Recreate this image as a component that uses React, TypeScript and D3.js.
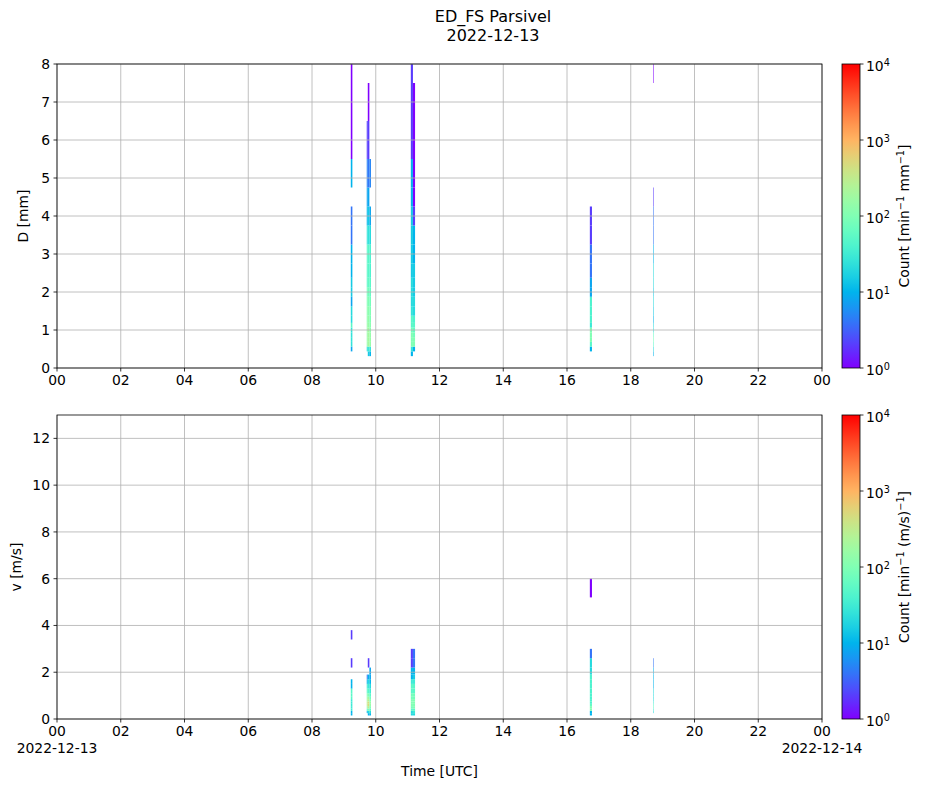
import React from 'react';
import * as d3 from 'd3';

// Parsivel size / velocity class centres (mm, m/s)
const dClasses = [
  0.062, 0.187, 0.312, 0.437, 0.562, 0.687, 0.812, 0.937, 1.062, 1.187,
  1.375, 1.625, 1.875, 2.125, 2.375, 2.75, 3.25, 3.75, 4.25, 4.75,
  5.5, 6.5, 7.5, 8.5, 9.5, 11, 13, 15, 17, 19, 21.5, 24.5,
];
const vClasses = [
  0.05, 0.15, 0.25, 0.35, 0.45, 0.55, 0.65, 0.75, 0.85, 0.95,
  1.1, 1.3, 1.5, 1.7, 1.9, 2.2, 2.6, 3.0, 3.4, 3.8,
  4.4, 5.2, 6.0, 6.8, 7.6, 8.8, 10.4, 12.0, 13.6, 15.2, 17.6, 20.8,
];

// minutes with rain (UTC start, length in minutes)
const colStart = ['09:13', '09:43', '09:45', '09:48', '11:06', '11:10', '16:43', '18:42'];
const colMinutes = [3, 2, 3, 3, 4, 4, 4, 1];

// counts per D class (index into dClasses)
const dCounts = [
  [0, 0, 0, 8, 25, 25, 25, 25, 50, 20, 20, 8, 15, 15, 10, 10, 4, 4, 0, 10, 1, 1, 1],
  [0, 0, 0, 20, 150, 150, 150, 150, 150, 120, 120, 100, 80, 50, 50, 50, 25, 10, 8, 5, 2],
  [0, 0, 15, 30, 200, 200, 200, 200, 150, 150, 120, 100, 80, 60, 50, 50, 25, 15, 8, 4, 2, 1],
  [0, 0, 10, 25, 150, 150, 150, 120, 120, 100, 100, 80, 60, 50, 40, 40, 20, 8, 0, 5],
  [0, 0, 10, 25, 100, 100, 100, 80, 50, 50, 25, 20, 20, 20, 15, 15, 15, 15, 10, 10, 2, 2, 2],
  [0, 0, 0, 10, 100, 100, 80, 60, 50, 40, 20, 20, 15, 15, 15, 10, 10, 2, 1, 1, 1, 1],
  [0, 0, 0, 10, 50, 100, 100, 100, 30, 40, 40, 40, 8, 8, 4, 4, 2, 2],
  [0, 0, 10, 20, 50, 80, 60, 20, 20, 10, 15, 20, 15, 20, 20, 10, 4, 4, 2, 0, 0, 0, 1],
];

// counts per v class (index into vClasses)
const vCounts = [
  [0, 10, 10, 30, 30, 30, 30, 30, 50, 50, 50, 10, 10, 0, 0, 2, 0, 0, 2],
  [0, 0, 10, 50, 150, 300, 300, 200, 150, 100, 50, 30, 10, 4],
  [0, 10, 20, 100, 300, 500, 500, 300, 200, 100, 50, 30, 20, 10, 0, 2],
  [0, 10, 20, 50, 100, 150, 150, 100, 80, 50, 30, 20, 10, 8, 8],
  [0, 20, 20, 50, 80, 100, 100, 100, 80, 80, 50, 50, 30, 10, 10, 2, 2],
  [0, 20, 30, 50, 100, 100, 100, 100, 80, 80, 50, 50, 30, 15, 10, 4, 4],
  [0, 10, 10, 100, 100, 60, 40, 40, 40, 40, 40, 40, 40, 40, 20, 20, 4, 0, 0, 0, 0, 1],
  [0, 0, 20, 30, 50, 50, 30, 20, 20, 20, 20, 10, 10, 10, 10, 4],
];

const dTicks = [0, 1, 2, 3, 4, 5, 6, 7, 8];
const vTicks = [0, 2, 4, 6, 8, 10, 12];
const cbTicks = [1, 10, 100, 1000, 10000];

const W = 927;
const H = 788;
const FONT = 'DejaVu Sans, sans-serif';
const FS = 13.9;

const day0 = new Date(Date.UTC(2022, 11, 13));
const day1 = new Date(Date.UTC(2022, 11, 14));

// matplotlib "rainbow" colormap
function rainbow(t: number): string {
  const x = Math.max(0, Math.min(1, t));
  const r = Math.min(1, Math.abs(2 * x - 0.5));
  const g = Math.sin(Math.PI * x);
  const b = Math.cos((Math.PI * x) / 2);
  return d3.rgb(r * 255, g * 255, b * 255).formatHex();
}

const x = d3.scaleUtc().domain([day0, day1]).range([57, 822]);
const cNorm = d3.scaleLog().domain([1, 10000]).range([0, 1]).clamp(true);

function startDate(s: string): Date {
  const [h, m] = s.split(':').map(Number);
  return new Date(day0.getTime() + (h * 60 + m) * 60000);
}

interface PanelProps {
  id: string;
  top: number;
  bottom: number;
  ymax: number;
  yTicks: number[];
  classes: number[];
  counts: number[][];
  ylabel: string;
  ylabelX: number;
  cbLabel: React.ReactNode;
  showDates: boolean;
}

function Sup({ children }: { children: React.ReactNode }) {
  return (
    <tspan baselineShift="super" fontSize={FS * 0.7}>
      {children}
    </tspan>
  );
}

function Panel(p: PanelProps) {
  const y = d3.scaleLinear().domain([0, p.ymax]).range([p.bottom, p.top]);
  const cb = d3.scaleLog().domain([1, 10000]).range([p.bottom, p.top]);
  const xTicks = d3.utcHour.every(2)!.range(day0, new Date(day1.getTime() + 1));

  const cells: React.ReactNode[] = [];
  p.counts.forEach((col, ci) => {
    const t0 = startDate(colStart[ci]);
    const t1 = new Date(t0.getTime() + colMinutes[ci] * 60000);
    col.forEach((n, k) => {
      if (n <= 0) return;
      const y0 = y(p.classes[k]);
      const y1 = y(p.classes[k + 1]);
      cells.push(
        <rect
          key={`${ci}-${k}`}
          x={x(t0)}
          width={x(t1) - x(t0)}
          y={y1}
          height={y0 - y1}
          fill={rainbow(cNorm(n))}
        />
      );
    });
  });

  const gradId = `grad-${p.id}`;
  const clipId = `clip-${p.id}`;
  const stops = d3.range(0, 1.0001, 0.05);

  return (
    <g>
      <defs>
        <clipPath id={clipId}>
          <rect x={57} y={p.top} width={822 - 57} height={p.bottom - p.top} />
        </clipPath>
        <linearGradient id={gradId} x1="0" y1="1" x2="0" y2="0">
          {stops.map(s => (
            <stop key={s} offset={`${s * 100}%`} stopColor={rainbow(s)} />
          ))}
        </linearGradient>
      </defs>

      <g clipPath={`url(#${clipId})`}>{cells}</g>

      {/* grid */}
      <g stroke="#b0b0b0" strokeWidth={0.8}>
        {xTicks.map(t => (
          <line key={+t} x1={x(t)} x2={x(t)} y1={p.top} y2={p.bottom} />
        ))}
        {p.yTicks.map(v => (
          <line key={v} x1={57} x2={822} y1={y(v)} y2={y(v)} />
        ))}
      </g>

      <rect x={57} y={p.top} width={822 - 57} height={p.bottom - p.top} fill="none" stroke="#000" strokeWidth={0.8} />

      {/* x ticks */}
      <g fontFamily={FONT} fontSize={FS} textAnchor="middle">
        {xTicks.map((t, i) => (
          <g key={+t}>
            <line x1={x(t)} x2={x(t)} y1={p.bottom} y2={p.bottom + 3.5} stroke="#000" strokeWidth={0.8} />
            <text x={x(t)} y={p.bottom + 17}>{d3.utcFormat('%H')(t)}</text>
            {p.showDates && (i === 0 || i === xTicks.length - 1) && (
              <text x={x(t)} y={p.bottom + 34}>{d3.utcFormat('%Y-%m-%d')(t)}</text>
            )}
          </g>
        ))}
      </g>

      {/* y ticks */}
      <g fontFamily={FONT} fontSize={FS} textAnchor="end">
        {p.yTicks.map(v => (
          <g key={v}>
            <line x1={57} x2={53.5} y1={y(v)} y2={y(v)} stroke="#000" strokeWidth={0.8} />
            <text x={50} y={y(v)} dy="0.35em">{v}</text>
          </g>
        ))}
      </g>
      <text
        transform={`translate(${p.ylabelX},${(p.top + p.bottom) / 2}) rotate(-90)`}
        textAnchor="middle"
        fontFamily={FONT}
        fontSize={FS}
      >
        {p.ylabel}
      </text>

      {/* colorbar */}
      <rect x={842} y={p.top} width={18} height={p.bottom - p.top} fill={`url(#${gradId})`} stroke="#000" strokeWidth={0.8} />
      <g fontFamily={FONT} fontSize={FS}>
        {cbTicks.map((v, i) => (
          <g key={v}>
            <line x1={860} x2={863.5} y1={cb(v)} y2={cb(v)} stroke="#000" strokeWidth={0.8} />
            <text x={866} y={cb(v)} dy="0.5em">
              10<Sup>{i}</Sup>
            </text>
          </g>
        ))}
      </g>
      <text
        transform={`translate(909,${(p.top + p.bottom) / 2}) rotate(-90)`}
        textAnchor="middle"
        fontFamily={FONT}
        fontSize={FS}
      >
        {p.cbLabel}
      </text>
    </g>
  );
}

export default function App() {
  return (
    <svg
      width={W}
      height={H}
      viewBox={`0 0 ${W} ${H}`}
      style={{ position: 'absolute', left: 0, top: 0, background: '#fff' }}
    >
      <rect width={W} height={H} fill="#fff" />
      <g fontFamily={FONT} fontSize={16} textAnchor="middle">
        <text x={493} y={22}>ED_FS Parsivel</text>
        <text x={493} y={41}>2022-12-13</text>
      </g>

      <Panel
        id="d"
        top={64}
        bottom={368}
        ymax={8}
        yTicks={dTicks}
        classes={dClasses}
        counts={dCounts}
        ylabel="D [mm]"
        ylabelX={28}
        showDates={false}
        cbLabel={
          <>
            Count [min<Sup>−1</Sup> mm<Sup>−1</Sup>]
          </>
        }
      />
      <Panel
        id="v"
        top={415}
        bottom={719}
        ymax={13}
        yTicks={vTicks}
        classes={vClasses}
        counts={vCounts}
        ylabel="v [m/s]"
        ylabelX={21}
        showDates={true}
        cbLabel={
          <>
            Count [min<Sup>−1</Sup> (m/s)<Sup>−1</Sup>]
          </>
        }
      />

      <text x={439.5} y={776} textAnchor="middle" fontFamily={FONT} fontSize={FS}>
        Time [UTC]
      </text>
    </svg>
  );
}
